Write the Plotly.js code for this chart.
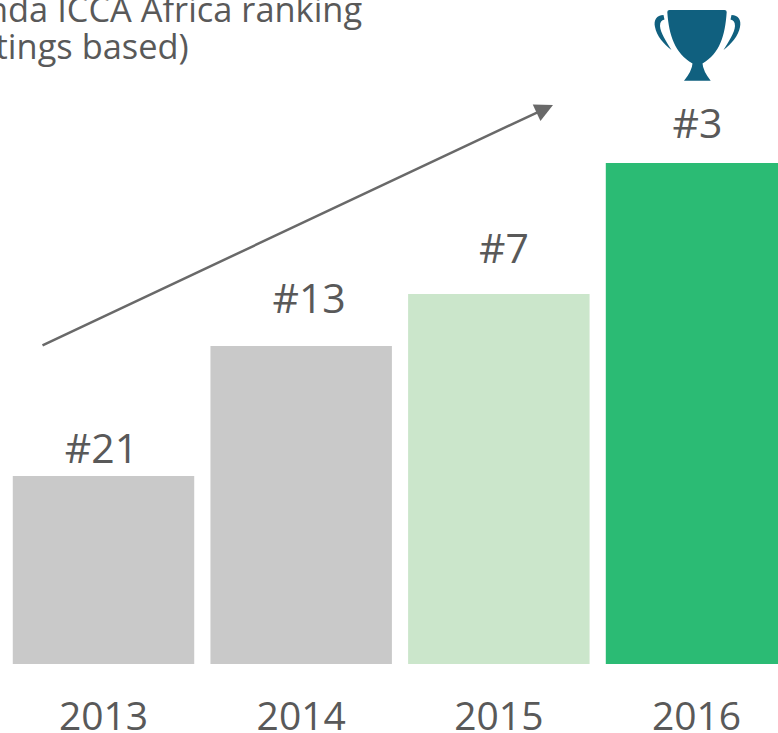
<!DOCTYPE html>
<html><head><meta charset="utf-8">
<script src="https://cdn.plot.ly/plotly-3.0.1.min.js"></script>
<style>html,body{margin:0;padding:0;background:#fff;overflow:hidden}</style>
</head><body><div id="c" style="width:778px;height:733px"></div>
<script>
const years = ['2013','2014','2015','2016'];
const barPositions = [0,1,2,3];
const barHeights = [188, 318, 370, 501];
const rankLabels = ['#21','#13','#7','#3'];
const labelX = [-0.01, 1.04, 2.026, 3.005];
const labelY = [211, 361, 411, 536];
const barColors = ['#C9C9C9','#C9C9C9','#CBE6CB','#2BBB74'];
const FONT = '"Open Sans",sans-serif';
const TXT = '#595959';
const W = 778, H = 733, BOTTOM = 664;
const px = v => (v / W).toFixed(5);
const py = v => ((BOTTOM - v) / BOTTOM).toFixed(5);
const p = (x, y) => px(x) + ',' + py(y);
const cup = 'M' + p(667.3,12) + ' Q' + p(667.3,10) + ' ' + p(669.5,10) + ' L' + p(724.5,10) + ' Q' + p(726.7,10) + ' ' + p(726.7,12) +
  ' C' + p(725,36) + ' ' + p(720,53) + ' ' + p(702.5,63.5) +
  ' Q' + p(703,71) + ' ' + p(710.7,80.7) + ' L' + p(684,80.7) + ' Q' + p(692,71) + ' ' + p(692.5,63.5) +
  ' C' + p(675,53) + ' ' + p(669,36) + ' ' + p(667.3,12) + ' Z';
const handleL = 'M' + p(663.5,15) + ' C' + p(656.5,15) + ' ' + p(653.5,20) + ' ' + p(655,27) +
  ' C' + p(656.5,36) + ' ' + p(664,44) + ' ' + p(671.5,50) +
  ' C' + p(666,41) + ' ' + p(660.5,33) + ' ' + p(660,26) +
  ' C' + p(660,22) + ' ' + p(661.5,20) + ' ' + p(664.5,19.5) + ' Z';
const handleR = 'M' + p(731.5,15) + ' C' + p(738.5,15) + ' ' + p(741.5,20) + ' ' + p(740,27) +
  ' C' + p(738.5,36) + ' ' + p(731,44) + ' ' + p(723.5,50) +
  ' C' + p(729,41) + ' ' + p(734.5,33) + ' ' + p(735,26) +
  ' C' + p(735,22) + ' ' + p(733.5,20) + ' ' + p(730.5,19.5) + ' Z';
const shape = d => ({type:'path', xref:'paper', yref:'paper', path:d, fillcolor:'#10607F', line:{width:0}, layer:'above'});
Plotly.newPlot('c', [{
  type:'bar', x:barPositions, y:barHeights, width:0.918,
  marker:{color:barColors, line:{width:0}}, hoverinfo:'skip'
},{
  type:'scatter', mode:'text', x:labelX, y:labelY, text:rankLabels, textposition:'middle center',
  cliponaxis:false, textfont:{family:FONT, size:41, color:TXT}, hoverinfo:'skip'
}], {
  width:W, height:H, margin:{l:0,r:0,t:0,b:69,pad:0},
  paper_bgcolor:'#fff', plot_bgcolor:'#fff', showlegend:false,
  xaxis:{range:[-0.5236,3.4122], tickmode:'array', tickvals:barPositions, ticktext:years, showgrid:false, zeroline:false, showline:false, ticks:'', ticklabelstandoff:26, tickfont:{family:FONT, size:39, color:TXT}, fixedrange:true},
  yaxis:{range:[0,664], visible:false, fixedrange:true},
  shapes:[shape(cup), shape(handleL), shape(handleR)],
  annotations:[
    {xref:'paper', yref:'paper', x:364/W, y:(BOTTOM-8)/BOTTOM, xanchor:'right', yanchor:'middle', showarrow:false, text:'Rwanda ICCA Africa ranking', font:{family:FONT, size:34.4, color:TXT}},
    {xref:'paper', yref:'paper', x:191/W, y:(BOTTOM-46)/BOTTOM, xanchor:'right', yanchor:'middle', showarrow:false, text:'(meetings based)', font:{family:FONT, size:34.4, color:TXT}},
    {xref:'paper', yref:'paper', axref:'pixel', ayref:'pixel', x:553/W, y:(BOTTOM-105)/BOTTOM, ax:-512, ay:241, showarrow:true, arrowhead:2, arrowsize:1.45, arrowwidth:2.5, arrowcolor:'#696969', text:''}
  ]
}, {displayModeBar:false, staticPlot:true});
</script></body></html>
